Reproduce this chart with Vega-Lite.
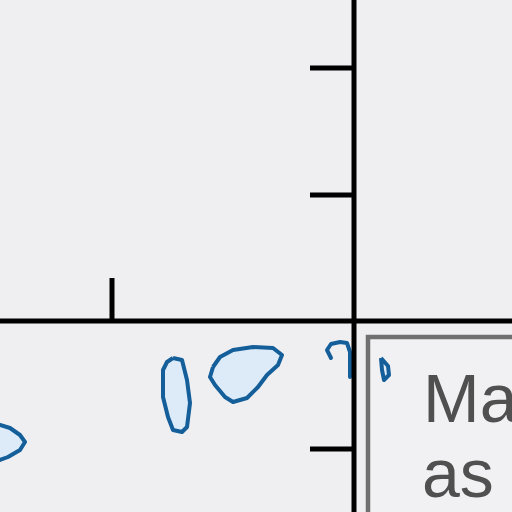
{
  "$schema": "https://vega.github.io/schema/vega-lite/v6.json",
  "width": 512,
  "height": 512,
  "autosize": {"type": "none"},
  "padding": 0,
  "background": "#efeff2",
  "view": {"stroke": null},
  "datasets": {
    "box": [{"x": 368, "x2": 560, "y": 337, "y2": 560}],
    "islands": [
      {"id": "A", "o": 1, "x": 173, "y": 358}, {"id": "A", "o": 2, "x": 182, "y": 360}, {"id": "A", "o": 3, "x": 187, "y": 380},
      {"id": "A", "o": 4, "x": 190, "y": 403}, {"id": "A", "o": 5, "x": 187, "y": 427}, {"id": "A", "o": 6, "x": 182, "y": 432},
      {"id": "A", "o": 7, "x": 173, "y": 430}, {"id": "A", "o": 8, "x": 168, "y": 417}, {"id": "A", "o": 9, "x": 163, "y": 397},
      {"id": "A", "o": 10, "x": 163, "y": 370}, {"id": "A", "o": 11, "x": 167, "y": 362}, {"id": "A", "o": 12, "x": 173, "y": 358},
      {"id": "B", "o": 1, "x": 213, "y": 367}, {"id": "B", "o": 2, "x": 220, "y": 357}, {"id": "B", "o": 3, "x": 233, "y": 350},
      {"id": "B", "o": 4, "x": 253, "y": 347}, {"id": "B", "o": 5, "x": 273, "y": 348}, {"id": "B", "o": 6, "x": 282, "y": 355},
      {"id": "B", "o": 7, "x": 278, "y": 365}, {"id": "B", "o": 8, "x": 267, "y": 375}, {"id": "B", "o": 9, "x": 258, "y": 387},
      {"id": "B", "o": 10, "x": 247, "y": 398}, {"id": "B", "o": 11, "x": 233, "y": 402}, {"id": "B", "o": 12, "x": 225, "y": 397},
      {"id": "B", "o": 13, "x": 215, "y": 385}, {"id": "B", "o": 14, "x": 210, "y": 377}, {"id": "B", "o": 15, "x": 213, "y": 367},
      {"id": "C", "o": 1, "x": -10, "y": 424}, {"id": "C", "o": 2, "x": 0, "y": 425}, {"id": "C", "o": 3, "x": 10, "y": 428},
      {"id": "C", "o": 4, "x": 20, "y": 435}, {"id": "C", "o": 5, "x": 25, "y": 442}, {"id": "C", "o": 6, "x": 20, "y": 450},
      {"id": "C", "o": 7, "x": 8, "y": 457}, {"id": "C", "o": 8, "x": 0, "y": 460}, {"id": "C", "o": 9, "x": -10, "y": 462},
      {"id": "E", "o": 1, "x": 381, "y": 358}, {"id": "E", "o": 2, "x": 388, "y": 366}, {"id": "E", "o": 3, "x": 389, "y": 375},
      {"id": "E", "o": 4, "x": 384, "y": 380}, {"id": "E", "o": 5, "x": 382, "y": 370}, {"id": "E", "o": 6, "x": 381, "y": 358}
    ],
    "fragments": [
      {"id": "D", "o": 1, "x": 331, "y": 358}, {"id": "D", "o": 2, "x": 327, "y": 350}, {"id": "D", "o": 3, "x": 331, "y": 344},
      {"id": "D", "o": 4, "x": 340, "y": 342}, {"id": "D", "o": 5, "x": 347, "y": 343}, {"id": "D", "o": 6, "x": 350, "y": 352},
      {"id": "D", "o": 7, "x": 350, "y": 377}
    ],
    "lines": [
      {"x": -10, "y": 321, "x2": 530, "y2": 321},
      {"x": 354, "y": -10, "x2": 354, "y2": 530},
      {"x": 112, "y": 278, "x2": 112, "y2": 321},
      {"x": 310, "y": 68, "x2": 354, "y2": 68},
      {"x": 310, "y": 195, "x2": 354, "y2": 195},
      {"x": 310, "y": 449, "x2": 354, "y2": 449}
    ],
    "labels": [
      {"x": 423, "y": 422, "label": "Map"},
      {"x": 422, "y": 497, "label": "as u"}
    ]
  },
  "layer": [
    {
      "data": {"name": "box"},
      "mark": {"type": "rect", "fill": "#f1f1f3", "stroke": "#707070", "strokeWidth": 4.5, "clip": true},
      "encoding": {
        "x": {"field": "x", "type": "quantitative", "scale": {"domain": [0, 512], "nice": false, "zero": false}, "axis": null},
        "x2": {"field": "x2"},
        "y": {"field": "y", "type": "quantitative", "scale": {"domain": [0, 512], "nice": false, "zero": false, "reverse": true}, "axis": null},
        "y2": {"field": "y2"}
      }
    },
    {
      "data": {"name": "islands"},
      "mark": {"type": "line", "fill": "#dcebf7", "stroke": "#145e9a", "strokeWidth": 4, "clip": true, "strokeJoin": "round"},
      "encoding": {
        "x": {"field": "x", "type": "quantitative"},
        "y": {"field": "y", "type": "quantitative"},
        "detail": {"field": "id"},
        "order": {"field": "o"}
      }
    },
    {
      "data": {"name": "fragments"},
      "mark": {"type": "line", "stroke": "#145e9a", "strokeWidth": 4, "clip": true, "strokeJoin": "round", "strokeCap": "round"},
      "encoding": {
        "x": {"field": "x", "type": "quantitative"},
        "y": {"field": "y", "type": "quantitative"},
        "detail": {"field": "id"},
        "order": {"field": "o"}
      }
    },
    {
      "data": {"name": "lines"},
      "mark": {"type": "rule", "color": "#000000", "strokeWidth": 5, "clip": true},
      "encoding": {
        "x": {"field": "x", "type": "quantitative"},
        "y": {"field": "y", "type": "quantitative"},
        "x2": {"field": "x2"},
        "y2": {"field": "y2"}
      }
    },
    {
      "data": {"name": "labels"},
      "mark": {"type": "text", "font": "Liberation Sans", "fontSize": 68, "color": "#505050", "align": "left", "baseline": "alphabetic", "clip": true},
      "encoding": {
        "x": {"field": "x", "type": "quantitative"},
        "y": {"field": "y", "type": "quantitative"},
        "text": {"field": "label"}
      }
    }
  ]
}
